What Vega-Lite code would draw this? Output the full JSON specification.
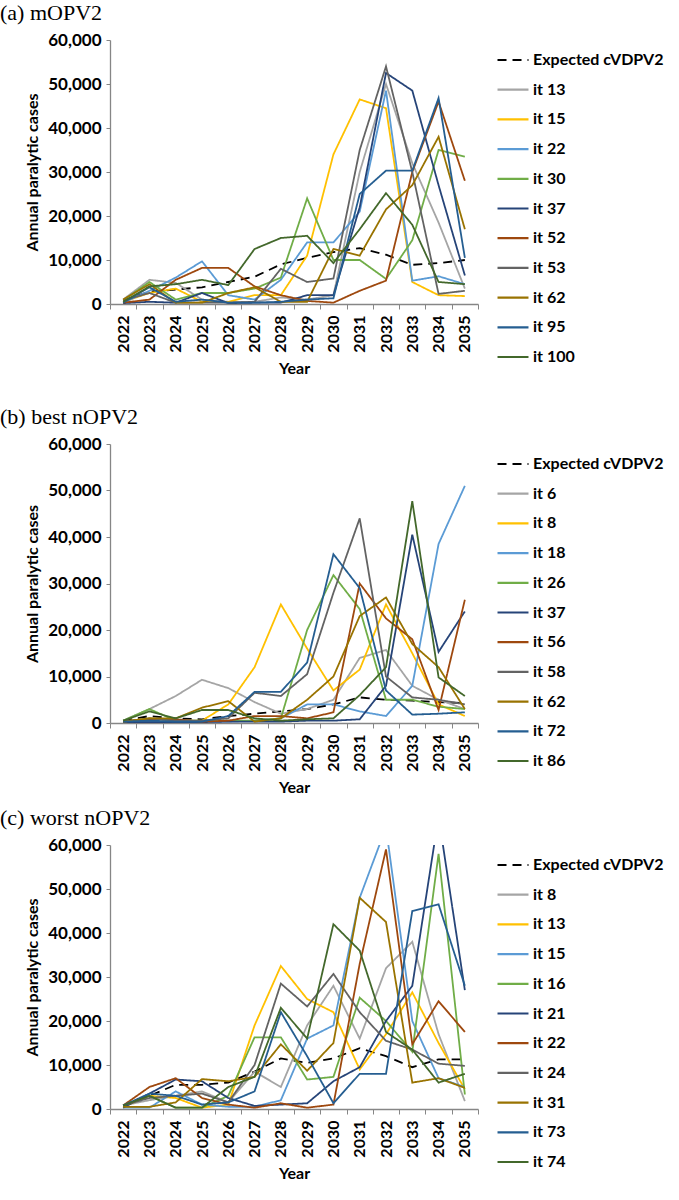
{
"$schema": "https://vega.github.io/schema/vega-lite/v6.json",
"background": "white",
"padding": {"left": 0, "top": 2, "right": 5, "bottom": 5},
"config": {
  "font": "Lato",
  "view": {"stroke": null},
  "axis": {"labelFont": "Lato", "labelFontWeight": "bold", "labelFontSize": 16, "labelColor": "#000000", "titleFont": "Lato", "titleFontWeight": "bold", "titleFontSize": 16, "titleColor": "#000000", "domainColor": "#868686", "tickColor": "#868686", "domainWidth": 1.3, "grid": false},
  "axisY": {"labelFontSize": 17},
  "legend": {"orient": "none", "title": null, "padding": 0, "symbolType": "M-2,0H2", "symbolSize": 240, "symbolStrokeWidth": 2.2, "labelOffset": 11, "rowPadding": 12.7, "labelFont": "Lato", "labelFontSize": 16, "labelFontWeight": "bold", "labelColor": "#000000", "legendX": 394, "legendY": 11},
  "title": {"font": "Liberation Serif", "fontSize": 22, "fontWeight": "normal", "anchor": "start", "frame": "group", "dx": -110, "color": "#000000", "offset": 6}
},
"datasets": {
"a": [
{"series":"Expected cVDPV2","year":"2022","cases":800},{"series":"Expected cVDPV2","year":"2023","cases":2800},{"series":"Expected cVDPV2","year":"2024","cases":3300},{"series":"Expected cVDPV2","year":"2025","cases":3800},{"series":"Expected cVDPV2","year":"2026","cases":5000},{"series":"Expected cVDPV2","year":"2027","cases":6200},{"series":"Expected cVDPV2","year":"2028","cases":9000},{"series":"Expected cVDPV2","year":"2029","cases":10500},{"series":"Expected cVDPV2","year":"2030","cases":11800},{"series":"Expected cVDPV2","year":"2031","cases":12700},{"series":"Expected cVDPV2","year":"2032","cases":11200},{"series":"Expected cVDPV2","year":"2033","cases":8900},{"series":"Expected cVDPV2","year":"2034","cases":9300},{"series":"Expected cVDPV2","year":"2035","cases":10000},
{"series":"it 13","year":"2022","cases":1000},{"series":"it 13","year":"2023","cases":5500},{"series":"it 13","year":"2024","cases":4800},{"series":"it 13","year":"2025","cases":1000},{"series":"it 13","year":"2026","cases":500},{"series":"it 13","year":"2027","cases":500},{"series":"it 13","year":"2028","cases":1500},{"series":"it 13","year":"2029","cases":1000},{"series":"it 13","year":"2030","cases":2000},{"series":"it 13","year":"2031","cases":30000},{"series":"it 13","year":"2032","cases":50000},{"series":"it 13","year":"2033","cases":32000},{"series":"it 13","year":"2034","cases":18500},{"series":"it 13","year":"2035","cases":3500},
{"series":"it 15","year":"2022","cases":500},{"series":"it 15","year":"2023","cases":2500},{"series":"it 15","year":"2024","cases":3500},{"series":"it 15","year":"2025","cases":500},{"series":"it 15","year":"2026","cases":500},{"series":"it 15","year":"2027","cases":2000},{"series":"it 15","year":"2028","cases":2000},{"series":"it 15","year":"2029","cases":11000},{"series":"it 15","year":"2030","cases":34000},{"series":"it 15","year":"2031","cases":46500},{"series":"it 15","year":"2032","cases":44500},{"series":"it 15","year":"2033","cases":5000},{"series":"it 15","year":"2034","cases":2000},{"series":"it 15","year":"2035","cases":1800},
{"series":"it 22","year":"2022","cases":300},{"series":"it 22","year":"2023","cases":3000},{"series":"it 22","year":"2024","cases":6000},{"series":"it 22","year":"2025","cases":9700},{"series":"it 22","year":"2026","cases":2000},{"series":"it 22","year":"2027","cases":1000},{"series":"it 22","year":"2028","cases":5500},{"series":"it 22","year":"2029","cases":14000},{"series":"it 22","year":"2030","cases":14000},{"series":"it 22","year":"2031","cases":21000},{"series":"it 22","year":"2032","cases":48500},{"series":"it 22","year":"2033","cases":5300},{"series":"it 22","year":"2034","cases":6300},{"series":"it 22","year":"2035","cases":4500},
{"series":"it 30","year":"2022","cases":800},{"series":"it 30","year":"2023","cases":5000},{"series":"it 30","year":"2024","cases":1000},{"series":"it 30","year":"2025","cases":2500},{"series":"it 30","year":"2026","cases":2500},{"series":"it 30","year":"2027","cases":3500},{"series":"it 30","year":"2028","cases":6000},{"series":"it 30","year":"2029","cases":24000},{"series":"it 30","year":"2030","cases":10000},{"series":"it 30","year":"2031","cases":10000},{"series":"it 30","year":"2032","cases":5700},{"series":"it 30","year":"2033","cases":14500},{"series":"it 30","year":"2034","cases":35000},{"series":"it 30","year":"2035","cases":33500},
{"series":"it 37","year":"2022","cases":200},{"series":"it 37","year":"2023","cases":500},{"series":"it 37","year":"2024","cases":300},{"series":"it 37","year":"2025","cases":2500},{"series":"it 37","year":"2026","cases":200},{"series":"it 37","year":"2027","cases":300},{"series":"it 37","year":"2028","cases":300},{"series":"it 37","year":"2029","cases":2000},{"series":"it 37","year":"2030","cases":2000},{"series":"it 37","year":"2031","cases":22000},{"series":"it 37","year":"2032","cases":52500},{"series":"it 37","year":"2033","cases":48500},{"series":"it 37","year":"2034","cases":27000},{"series":"it 37","year":"2035","cases":6500},
{"series":"it 52","year":"2022","cases":300},{"series":"it 52","year":"2023","cases":1000},{"series":"it 52","year":"2024","cases":5500},{"series":"it 52","year":"2025","cases":8200},{"series":"it 52","year":"2026","cases":8200},{"series":"it 52","year":"2027","cases":4000},{"series":"it 52","year":"2028","cases":2000},{"series":"it 52","year":"2029","cases":700},{"series":"it 52","year":"2030","cases":300},{"series":"it 52","year":"2031","cases":3000},{"series":"it 52","year":"2032","cases":5300},{"series":"it 52","year":"2033","cases":30000},{"series":"it 52","year":"2034","cases":46000},{"series":"it 52","year":"2035","cases":28000},
{"series":"it 53","year":"2022","cases":800},{"series":"it 53","year":"2023","cases":2500},{"series":"it 53","year":"2024","cases":300},{"series":"it 53","year":"2025","cases":300},{"series":"it 53","year":"2026","cases":300},{"series":"it 53","year":"2027","cases":500},{"series":"it 53","year":"2028","cases":8000},{"series":"it 53","year":"2029","cases":5000},{"series":"it 53","year":"2030","cases":5800},{"series":"it 53","year":"2031","cases":35000},{"series":"it 53","year":"2032","cases":54000},{"series":"it 53","year":"2033","cases":30000},{"series":"it 53","year":"2034","cases":2300},{"series":"it 53","year":"2035","cases":3000},
{"series":"it 62","year":"2022","cases":1000},{"series":"it 62","year":"2023","cases":4500},{"series":"it 62","year":"2024","cases":300},{"series":"it 62","year":"2025","cases":300},{"series":"it 62","year":"2026","cases":2500},{"series":"it 62","year":"2027","cases":3800},{"series":"it 62","year":"2028","cases":500},{"series":"it 62","year":"2029","cases":500},{"series":"it 62","year":"2030","cases":12500},{"series":"it 62","year":"2031","cases":11000},{"series":"it 62","year":"2032","cases":21500},{"series":"it 62","year":"2033","cases":27000},{"series":"it 62","year":"2034","cases":38000},{"series":"it 62","year":"2035","cases":17000},
{"series":"it 95","year":"2022","cases":300},{"series":"it 95","year":"2023","cases":3800},{"series":"it 95","year":"2024","cases":500},{"series":"it 95","year":"2025","cases":1000},{"series":"it 95","year":"2026","cases":300},{"series":"it 95","year":"2027","cases":300},{"series":"it 95","year":"2028","cases":500},{"series":"it 95","year":"2029","cases":1000},{"series":"it 95","year":"2030","cases":1300},{"series":"it 95","year":"2031","cases":25000},{"series":"it 95","year":"2032","cases":30300},{"series":"it 95","year":"2033","cases":30300},{"series":"it 95","year":"2034","cases":46800},{"series":"it 95","year":"2035","cases":10500},
{"series":"it 100","year":"2022","cases":500},{"series":"it 100","year":"2023","cases":4000},{"series":"it 100","year":"2024","cases":4500},{"series":"it 100","year":"2025","cases":5500},{"series":"it 100","year":"2026","cases":4300},{"series":"it 100","year":"2027","cases":12500},{"series":"it 100","year":"2028","cases":15000},{"series":"it 100","year":"2029","cases":15500},{"series":"it 100","year":"2030","cases":9300},{"series":"it 100","year":"2031","cases":17000},{"series":"it 100","year":"2032","cases":25200},{"series":"it 100","year":"2033","cases":18000},{"series":"it 100","year":"2034","cases":5000},{"series":"it 100","year":"2035","cases":4500}
],
"b": [
{"series":"Expected cVDPV2","year":"2022","cases":500},{"series":"Expected cVDPV2","year":"2023","cases":1500},{"series":"Expected cVDPV2","year":"2024","cases":1000},{"series":"Expected cVDPV2","year":"2025","cases":800},{"series":"Expected cVDPV2","year":"2026","cases":1500},{"series":"Expected cVDPV2","year":"2027","cases":2000},{"series":"Expected cVDPV2","year":"2028","cases":2500},{"series":"Expected cVDPV2","year":"2029","cases":3000},{"series":"Expected cVDPV2","year":"2030","cases":4000},{"series":"Expected cVDPV2","year":"2031","cases":5500},{"series":"Expected cVDPV2","year":"2032","cases":5000},{"series":"Expected cVDPV2","year":"2033","cases":4800},{"series":"Expected cVDPV2","year":"2034","cases":4500},{"series":"Expected cVDPV2","year":"2035","cases":4300},
{"series":"it 6","year":"2022","cases":500},{"series":"it 6","year":"2023","cases":3000},{"series":"it 6","year":"2024","cases":5800},{"series":"it 6","year":"2025","cases":9300},{"series":"it 6","year":"2026","cases":7500},{"series":"it 6","year":"2027","cases":4500},{"series":"it 6","year":"2028","cases":2000},{"series":"it 6","year":"2029","cases":3000},{"series":"it 6","year":"2030","cases":5000},{"series":"it 6","year":"2031","cases":14000},{"series":"it 6","year":"2032","cases":15700},{"series":"it 6","year":"2033","cases":8000},{"series":"it 6","year":"2034","cases":5000},{"series":"it 6","year":"2035","cases":3000},
{"series":"it 8","year":"2022","cases":300},{"series":"it 8","year":"2023","cases":1000},{"series":"it 8","year":"2024","cases":500},{"series":"it 8","year":"2025","cases":500},{"series":"it 8","year":"2026","cases":4000},{"series":"it 8","year":"2027","cases":12000},{"series":"it 8","year":"2028","cases":25500},{"series":"it 8","year":"2029","cases":16000},{"series":"it 8","year":"2030","cases":7000},{"series":"it 8","year":"2031","cases":11500},{"series":"it 8","year":"2032","cases":25500},{"series":"it 8","year":"2033","cases":15000},{"series":"it 8","year":"2034","cases":4000},{"series":"it 8","year":"2035","cases":1500},
{"series":"it 18","year":"2022","cases":300},{"series":"it 18","year":"2023","cases":300},{"series":"it 18","year":"2024","cases":300},{"series":"it 18","year":"2025","cases":300},{"series":"it 18","year":"2026","cases":300},{"series":"it 18","year":"2027","cases":500},{"series":"it 18","year":"2028","cases":1000},{"series":"it 18","year":"2029","cases":4000},{"series":"it 18","year":"2030","cases":4000},{"series":"it 18","year":"2031","cases":2500},{"series":"it 18","year":"2032","cases":1500},{"series":"it 18","year":"2033","cases":8000},{"series":"it 18","year":"2034","cases":38500},{"series":"it 18","year":"2035","cases":51000},
{"series":"it 26","year":"2022","cases":500},{"series":"it 26","year":"2023","cases":3000},{"series":"it 26","year":"2024","cases":500},{"series":"it 26","year":"2025","cases":500},{"series":"it 26","year":"2026","cases":500},{"series":"it 26","year":"2027","cases":500},{"series":"it 26","year":"2028","cases":1000},{"series":"it 26","year":"2029","cases":20000},{"series":"it 26","year":"2030","cases":31800},{"series":"it 26","year":"2031","cases":24500},{"series":"it 26","year":"2032","cases":5000},{"series":"it 26","year":"2033","cases":5000},{"series":"it 26","year":"2034","cases":3500},{"series":"it 26","year":"2035","cases":3000},
{"series":"it 37","year":"2022","cases":200},{"series":"it 37","year":"2023","cases":200},{"series":"it 37","year":"2024","cases":200},{"series":"it 37","year":"2025","cases":200},{"series":"it 37","year":"2026","cases":300},{"series":"it 37","year":"2027","cases":300},{"series":"it 37","year":"2028","cases":300},{"series":"it 37","year":"2029","cases":500},{"series":"it 37","year":"2030","cases":500},{"series":"it 37","year":"2031","cases":800},{"series":"it 37","year":"2032","cases":8000},{"series":"it 37","year":"2033","cases":40500},{"series":"it 37","year":"2034","cases":15300},{"series":"it 37","year":"2035","cases":24000},
{"series":"it 56","year":"2022","cases":300},{"series":"it 56","year":"2023","cases":800},{"series":"it 56","year":"2024","cases":800},{"series":"it 56","year":"2025","cases":300},{"series":"it 56","year":"2026","cases":500},{"series":"it 56","year":"2027","cases":1500},{"series":"it 56","year":"2028","cases":1500},{"series":"it 56","year":"2029","cases":1000},{"series":"it 56","year":"2030","cases":2300},{"series":"it 56","year":"2031","cases":30000},{"series":"it 56","year":"2032","cases":22500},{"series":"it 56","year":"2033","cases":18000},{"series":"it 56","year":"2034","cases":2800},{"series":"it 56","year":"2035","cases":26500},
{"series":"it 58","year":"2022","cases":300},{"series":"it 58","year":"2023","cases":1000},{"series":"it 58","year":"2024","cases":500},{"series":"it 58","year":"2025","cases":500},{"series":"it 58","year":"2026","cases":1000},{"series":"it 58","year":"2027","cases":6500},{"series":"it 58","year":"2028","cases":5800},{"series":"it 58","year":"2029","cases":10500},{"series":"it 58","year":"2030","cases":28000},{"series":"it 58","year":"2031","cases":44000},{"series":"it 58","year":"2032","cases":10000},{"series":"it 58","year":"2033","cases":5500},{"series":"it 58","year":"2034","cases":5000},{"series":"it 58","year":"2035","cases":4000},
{"series":"it 62","year":"2022","cases":300},{"series":"it 62","year":"2023","cases":1000},{"series":"it 62","year":"2024","cases":1000},{"series":"it 62","year":"2025","cases":3300},{"series":"it 62","year":"2026","cases":4700},{"series":"it 62","year":"2027","cases":300},{"series":"it 62","year":"2028","cases":1000},{"series":"it 62","year":"2029","cases":5000},{"series":"it 62","year":"2030","cases":10000},{"series":"it 62","year":"2031","cases":23000},{"series":"it 62","year":"2032","cases":27000},{"series":"it 62","year":"2033","cases":17000},{"series":"it 62","year":"2034","cases":12000},{"series":"it 62","year":"2035","cases":3000},
{"series":"it 72","year":"2022","cases":300},{"series":"it 72","year":"2023","cases":500},{"series":"it 72","year":"2024","cases":300},{"series":"it 72","year":"2025","cases":300},{"series":"it 72","year":"2026","cases":1500},{"series":"it 72","year":"2027","cases":6700},{"series":"it 72","year":"2028","cases":6700},{"series":"it 72","year":"2029","cases":13000},{"series":"it 72","year":"2030","cases":36300},{"series":"it 72","year":"2031","cases":29000},{"series":"it 72","year":"2032","cases":7000},{"series":"it 72","year":"2033","cases":1800},{"series":"it 72","year":"2034","cases":2000},{"series":"it 72","year":"2035","cases":2300},
{"series":"it 86","year":"2022","cases":500},{"series":"it 86","year":"2023","cases":2500},{"series":"it 86","year":"2024","cases":1000},{"series":"it 86","year":"2025","cases":2800},{"series":"it 86","year":"2026","cases":2800},{"series":"it 86","year":"2027","cases":1000},{"series":"it 86","year":"2028","cases":500},{"series":"it 86","year":"2029","cases":800},{"series":"it 86","year":"2030","cases":1000},{"series":"it 86","year":"2031","cases":6000},{"series":"it 86","year":"2032","cases":12000},{"series":"it 86","year":"2033","cases":47700},{"series":"it 86","year":"2034","cases":9800},{"series":"it 86","year":"2035","cases":5800}
],
"c": [
{"series":"Expected cVDPV2","year":"2022","cases":800},{"series":"Expected cVDPV2","year":"2023","cases":3000},{"series":"Expected cVDPV2","year":"2024","cases":5500},{"series":"Expected cVDPV2","year":"2025","cases":5500},{"series":"Expected cVDPV2","year":"2026","cases":6000},{"series":"Expected cVDPV2","year":"2027","cases":8500},{"series":"Expected cVDPV2","year":"2028","cases":11500},{"series":"Expected cVDPV2","year":"2029","cases":10500},{"series":"Expected cVDPV2","year":"2030","cases":11500},{"series":"Expected cVDPV2","year":"2031","cases":13800},{"series":"Expected cVDPV2","year":"2032","cases":12000},{"series":"Expected cVDPV2","year":"2033","cases":9500},{"series":"Expected cVDPV2","year":"2034","cases":11300},{"series":"Expected cVDPV2","year":"2035","cases":11300},
{"series":"it 8","year":"2022","cases":800},{"series":"it 8","year":"2023","cases":2000},{"series":"it 8","year":"2024","cases":3000},{"series":"it 8","year":"2025","cases":4000},{"series":"it 8","year":"2026","cases":1500},{"series":"it 8","year":"2027","cases":8500},{"series":"it 8","year":"2028","cases":5000},{"series":"it 8","year":"2029","cases":19000},{"series":"it 8","year":"2030","cases":28000},{"series":"it 8","year":"2031","cases":16000},{"series":"it 8","year":"2032","cases":32000},{"series":"it 8","year":"2033","cases":38000},{"series":"it 8","year":"2034","cases":17000},{"series":"it 8","year":"2035","cases":1800},
{"series":"it 13","year":"2022","cases":500},{"series":"it 13","year":"2023","cases":3000},{"series":"it 13","year":"2024","cases":2500},{"series":"it 13","year":"2025","cases":300},{"series":"it 13","year":"2026","cases":1000},{"series":"it 13","year":"2027","cases":19000},{"series":"it 13","year":"2028","cases":32500},{"series":"it 13","year":"2029","cases":25000},{"series":"it 13","year":"2030","cases":22000},{"series":"it 13","year":"2031","cases":9000},{"series":"it 13","year":"2032","cases":17000},{"series":"it 13","year":"2033","cases":26500},{"series":"it 13","year":"2034","cases":15000},{"series":"it 13","year":"2035","cases":4500},
{"series":"it 15","year":"2022","cases":300},{"series":"it 15","year":"2023","cases":300},{"series":"it 15","year":"2024","cases":4000},{"series":"it 15","year":"2025","cases":1000},{"series":"it 15","year":"2026","cases":500},{"series":"it 15","year":"2027","cases":500},{"series":"it 15","year":"2028","cases":2000},{"series":"it 15","year":"2029","cases":16000},{"series":"it 15","year":"2030","cases":19000},{"series":"it 15","year":"2031","cases":48000},{"series":"it 15","year":"2032","cases":64000},{"series":"it 15","year":"2033","cases":20000},{"series":"it 15","year":"2034","cases":7000},{"series":"it 15","year":"2035","cases":5000},
{"series":"it 16","year":"2022","cases":800},{"series":"it 16","year":"2023","cases":3000},{"series":"it 16","year":"2024","cases":300},{"series":"it 16","year":"2025","cases":300},{"series":"it 16","year":"2026","cases":3000},{"series":"it 16","year":"2027","cases":16300},{"series":"it 16","year":"2028","cases":16300},{"series":"it 16","year":"2029","cases":6700},{"series":"it 16","year":"2030","cases":7300},{"series":"it 16","year":"2031","cases":25300},{"series":"it 16","year":"2032","cases":20000},{"series":"it 16","year":"2033","cases":13000},{"series":"it 16","year":"2034","cases":58000},{"series":"it 16","year":"2035","cases":3300},
{"series":"it 21","year":"2022","cases":300},{"series":"it 21","year":"2023","cases":3500},{"series":"it 21","year":"2024","cases":6700},{"series":"it 21","year":"2025","cases":6300},{"series":"it 21","year":"2026","cases":2500},{"series":"it 21","year":"2027","cases":700},{"series":"it 21","year":"2028","cases":1000},{"series":"it 21","year":"2029","cases":1300},{"series":"it 21","year":"2030","cases":6300},{"series":"it 21","year":"2031","cases":9500},{"series":"it 21","year":"2032","cases":20000},{"series":"it 21","year":"2033","cases":28000},{"series":"it 21","year":"2034","cases":66500},{"series":"it 21","year":"2035","cases":27000},
{"series":"it 22","year":"2022","cases":800},{"series":"it 22","year":"2023","cases":5000},{"series":"it 22","year":"2024","cases":7000},{"series":"it 22","year":"2025","cases":2500},{"series":"it 22","year":"2026","cases":1000},{"series":"it 22","year":"2027","cases":300},{"series":"it 22","year":"2028","cases":1300},{"series":"it 22","year":"2029","cases":300},{"series":"it 22","year":"2030","cases":1000},{"series":"it 22","year":"2031","cases":33000},{"series":"it 22","year":"2032","cases":59000},{"series":"it 22","year":"2033","cases":14700},{"series":"it 22","year":"2034","cases":24500},{"series":"it 22","year":"2035","cases":17500},
{"series":"it 24","year":"2022","cases":800},{"series":"it 24","year":"2023","cases":2500},{"series":"it 24","year":"2024","cases":3000},{"series":"it 24","year":"2025","cases":3500},{"series":"it 24","year":"2026","cases":1500},{"series":"it 24","year":"2027","cases":10000},{"series":"it 24","year":"2028","cases":28500},{"series":"it 24","year":"2029","cases":23300},{"series":"it 24","year":"2030","cases":30700},{"series":"it 24","year":"2031","cases":22000},{"series":"it 24","year":"2032","cases":15500},{"series":"it 24","year":"2033","cases":13500},{"series":"it 24","year":"2034","cases":10300},{"series":"it 24","year":"2035","cases":9800},
{"series":"it 31","year":"2022","cases":500},{"series":"it 31","year":"2023","cases":500},{"series":"it 31","year":"2024","cases":1500},{"series":"it 31","year":"2025","cases":6800},{"series":"it 31","year":"2026","cases":6300},{"series":"it 31","year":"2027","cases":7300},{"series":"it 31","year":"2028","cases":14700},{"series":"it 31","year":"2029","cases":8700},{"series":"it 31","year":"2030","cases":15000},{"series":"it 31","year":"2031","cases":48000},{"series":"it 31","year":"2032","cases":42500},{"series":"it 31","year":"2033","cases":6000},{"series":"it 31","year":"2034","cases":7000},{"series":"it 31","year":"2035","cases":4800},
{"series":"it 73","year":"2022","cases":800},{"series":"it 73","year":"2023","cases":3500},{"series":"it 73","year":"2024","cases":3000},{"series":"it 73","year":"2025","cases":1000},{"series":"it 73","year":"2026","cases":1500},{"series":"it 73","year":"2027","cases":4000},{"series":"it 73","year":"2028","cases":22000},{"series":"it 73","year":"2029","cases":12000},{"series":"it 73","year":"2030","cases":1300},{"series":"it 73","year":"2031","cases":8000},{"series":"it 73","year":"2032","cases":8000},{"series":"it 73","year":"2033","cases":45000},{"series":"it 73","year":"2034","cases":46500},{"series":"it 73","year":"2035","cases":28000},
{"series":"it 74","year":"2022","cases":800},{"series":"it 74","year":"2023","cases":3000},{"series":"it 74","year":"2024","cases":300},{"series":"it 74","year":"2025","cases":300},{"series":"it 74","year":"2026","cases":5000},{"series":"it 74","year":"2027","cases":7300},{"series":"it 74","year":"2028","cases":23000},{"series":"it 74","year":"2029","cases":16000},{"series":"it 74","year":"2030","cases":42000},{"series":"it 74","year":"2031","cases":36000},{"series":"it 74","year":"2032","cases":17500},{"series":"it 74","year":"2033","cases":13500},{"series":"it 74","year":"2034","cases":6000},{"series":"it 74","year":"2035","cases":8000}
]
},
"spacing": 29,
"vconcat": [
{
  "title": "(a) mOPV2",
  "data": {"name": "a"},
  "width": 368, "height": 264,
  "mark": {"type": "line", "clip": true, "strokeWidth": 1.8},
  "encoding": {
    "x": {"field": "year", "type": "ordinal", "bandPosition": 0.5, "scale": {"type": "band", "paddingInner": 0, "paddingOuter": 0}, "axis": {"title": "Year", "labelAngle": -90, "tickBand": "extent", "tickSize": 5, "labelPadding": 6, "titlePadding": 8}},
    "y": {"field": "cases", "type": "quantitative", "scale": {"domain": [0, 60000], "nice": false}, "axis": {"title": "Annual paralytic cases", "values": [0, 10000, 20000, 30000, 40000, 50000, 60000], "format": ",.0f", "tickSize": 4, "labelPadding": 5, "titlePadding": 7}},
    "color": {"field": "series", "type": "nominal", "scale": {"domain": ["Expected cVDPV2", "it 13", "it 15", "it 22", "it 30", "it 37", "it 52", "it 53", "it 62", "it 95", "it 100"], "range": ["#000000", "#A5A5A5", "#FFC000", "#5B9BD5", "#70AD47", "#264478", "#9E480E", "#636363", "#997300", "#255E91", "#43682B"]}, "legend": {}},
    "strokeDash": {"field": "series", "type": "nominal", "scale": {"domain": ["Expected cVDPV2", "it 13", "it 15", "it 22", "it 30", "it 37", "it 52", "it 53", "it 62", "it 95", "it 100"], "range": [[9, 6], [1, 0], [1, 0], [1, 0], [1, 0], [1, 0], [1, 0], [1, 0], [1, 0], [1, 0], [1, 0]]}, "legend": {}},
    "strokeWidth": {"condition": {"test": "datum.series == 'Expected cVDPV2'", "value": 2.6}, "value": 1.8}
  }
},
{
  "spacing": 11,
  "vconcat": [
  {
    "title": "(b) best nOPV2",
    "data": {"name": "b"},
    "width": 368, "height": 279,
    "mark": {"type": "line", "clip": true, "strokeWidth": 1.8},
    "encoding": {
      "x": {"field": "year", "type": "ordinal", "bandPosition": 0.5, "scale": {"type": "band", "paddingInner": 0, "paddingOuter": 0}, "axis": {"title": "Year", "labelAngle": -90, "tickBand": "extent", "tickSize": 5, "labelPadding": 6, "titlePadding": 8}},
      "y": {"field": "cases", "type": "quantitative", "scale": {"domain": [0, 60000], "nice": false}, "axis": {"title": "Annual paralytic cases", "values": [0, 10000, 20000, 30000, 40000, 50000, 60000], "format": ",.0f", "tickSize": 4, "labelPadding": 5, "titlePadding": 7}},
      "color": {"field": "series", "type": "nominal", "scale": {"domain": ["Expected cVDPV2", "it 6", "it 8", "it 18", "it 26", "it 37", "it 56", "it 58", "it 62", "it 72", "it 86"], "range": ["#000000", "#A5A5A5", "#FFC000", "#5B9BD5", "#70AD47", "#264478", "#9E480E", "#636363", "#997300", "#255E91", "#43682B"]}, "legend": {}},
      "strokeDash": {"field": "series", "type": "nominal", "scale": {"domain": ["Expected cVDPV2", "it 6", "it 8", "it 18", "it 26", "it 37", "it 56", "it 58", "it 62", "it 72", "it 86"], "range": [[9, 6], [1, 0], [1, 0], [1, 0], [1, 0], [1, 0], [1, 0], [1, 0], [1, 0], [1, 0], [1, 0]]}, "legend": {}},
      "strokeWidth": {"condition": {"test": "datum.series == 'Expected cVDPV2'", "value": 2.6}, "value": 1.8}
    }
  },
  {
    "title": "(c) worst nOPV2",
    "data": {"name": "c"},
    "width": 368, "height": 264,
    "mark": {"type": "line", "clip": true, "strokeWidth": 1.8},
    "encoding": {
      "x": {"field": "year", "type": "ordinal", "bandPosition": 0.5, "scale": {"type": "band", "paddingInner": 0, "paddingOuter": 0}, "axis": {"title": "Year", "labelAngle": -90, "tickBand": "extent", "tickSize": 5, "labelPadding": 6, "titlePadding": 8}},
      "y": {"field": "cases", "type": "quantitative", "scale": {"domain": [0, 60000], "nice": false}, "axis": {"title": "Annual paralytic cases", "values": [0, 10000, 20000, 30000, 40000, 50000, 60000], "format": ",.0f", "tickSize": 4, "labelPadding": 5, "titlePadding": 7}},
      "color": {"field": "series", "type": "nominal", "scale": {"domain": ["Expected cVDPV2", "it 8", "it 13", "it 15", "it 16", "it 21", "it 22", "it 24", "it 31", "it 73", "it 74"], "range": ["#000000", "#A5A5A5", "#FFC000", "#5B9BD5", "#70AD47", "#264478", "#9E480E", "#636363", "#997300", "#255E91", "#43682B"]}, "legend": {}},
      "strokeDash": {"field": "series", "type": "nominal", "scale": {"domain": ["Expected cVDPV2", "it 8", "it 13", "it 15", "it 16", "it 21", "it 22", "it 24", "it 31", "it 73", "it 74"], "range": [[9, 6], [1, 0], [1, 0], [1, 0], [1, 0], [1, 0], [1, 0], [1, 0], [1, 0], [1, 0], [1, 0]]}, "legend": {}},
      "strokeWidth": {"condition": {"test": "datum.series == 'Expected cVDPV2'", "value": 2.6}, "value": 1.8}
    }
  }
  ],
  "resolve": {"scale": {"color": "independent", "strokeDash": "independent", "x": "independent", "y": "independent"}, "legend": {"color": "independent", "strokeDash": "independent"}}
}
],
"resolve": {"scale": {"color": "independent", "strokeDash": "independent", "x": "independent", "y": "independent"}, "legend": {"color": "independent", "strokeDash": "independent"}}
}
